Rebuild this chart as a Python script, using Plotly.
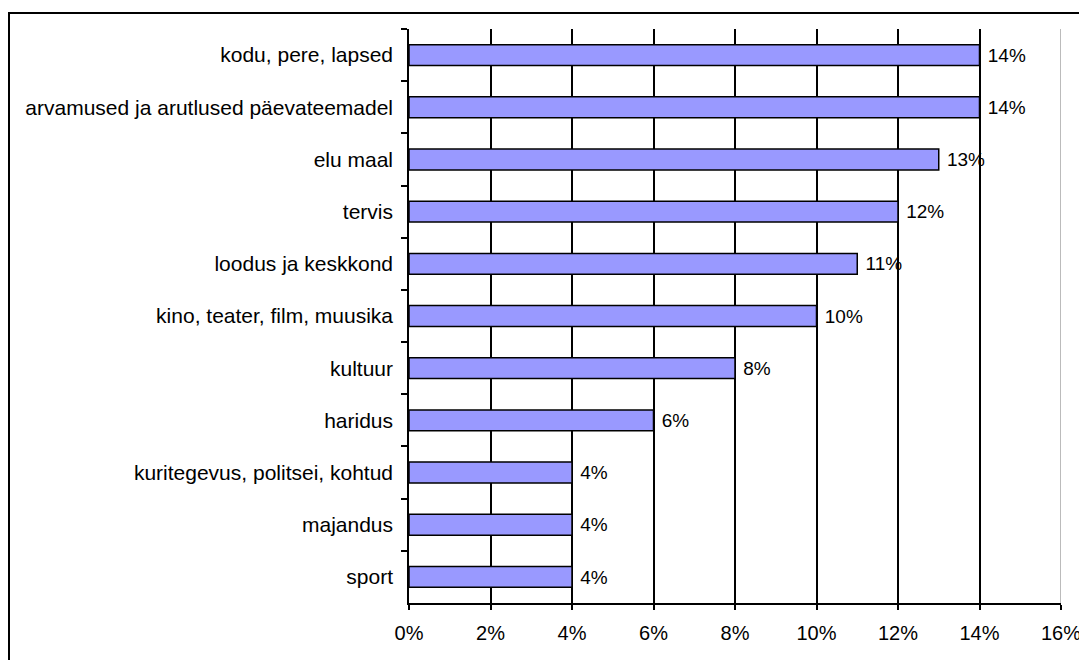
import plotly.graph_objects as go

categories = [
    "kodu, pere, lapsed",
    "arvamused ja arutlused päevateemadel",
    "elu maal",
    "tervis",
    "loodus ja keskkond",
    "kino, teater, film, muusika",
    "kultuur",
    "haridus",
    "kuritegevus, politsei, kohtud",
    "majandus",
    "sport",
]
shares = [14, 14, 13, 12, 11, 10, 8, 6, 4, 4, 4]
x_ticks = [0, 2, 4, 6, 8, 10, 12, 14, 16]

FONT = "Liberation Sans, Arial, sans-serif"

fig = go.Figure(
    go.Bar(
        x=shares,
        y=categories,
        orientation="h",
        marker=dict(color="#9999FF", line=dict(color="black", width=1.5)),
        width=0.4,
        text=[f"{v}%" for v in shares],
        texttemplate=" %{text}",
        textposition="outside",
        textfont=dict(family=FONT, size=20, color="black"),
        cliponaxis=False,
    )
)

# page has an 8px body margin, so margins are offset by that
fig.update_layout(
    width=1087,
    height=660,
    margin=dict(l=401, r=34, t=21, b=65),
    plot_bgcolor="white",
    paper_bgcolor="white",
    font=dict(family=FONT, size=20, color="black"),
    showlegend=False,
    xaxis=dict(
        range=[0, 16],
        tickvals=x_ticks,
        ticktext=[f"{t}%" for t in x_ticks],
        tickfont=dict(size=20),
        showgrid=True,
        gridcolor="black",
        gridwidth=1.5,
        showline=True,
        linecolor="black",
        linewidth=1.5,
        ticks="outside",
        ticklen=5,
        tickcolor="black",
        tickwidth=1.5,
        ticklabelstandoff=6,
        zeroline=False,
    ),
    yaxis=dict(
        autorange="reversed",
        tickfont=dict(size=21),
        showgrid=False,
        showline=True,
        linecolor="black",
        linewidth=1.5,
        ticks="outside",
        tickson="boundaries",
        ticklen=6,
        tickcolor="black",
        tickwidth=1.5,
        ticklabelstandoff=10,
    ),
    shapes=[
        # light gray right edge of the plot area
        dict(type="line", xref="x", yref="paper", x0=16, x1=16, y0=0, y1=1,
             line=dict(color="#BBBBBB", width=2)),
        # outer chart border
        dict(type="rect", xref="paper", yref="paper",
             x0=-0.6135, x1=1.2, y0=-0.3, y1=1.028,
             line=dict(color="black", width=2)),
    ],
)

fig.write_html("out.html")
